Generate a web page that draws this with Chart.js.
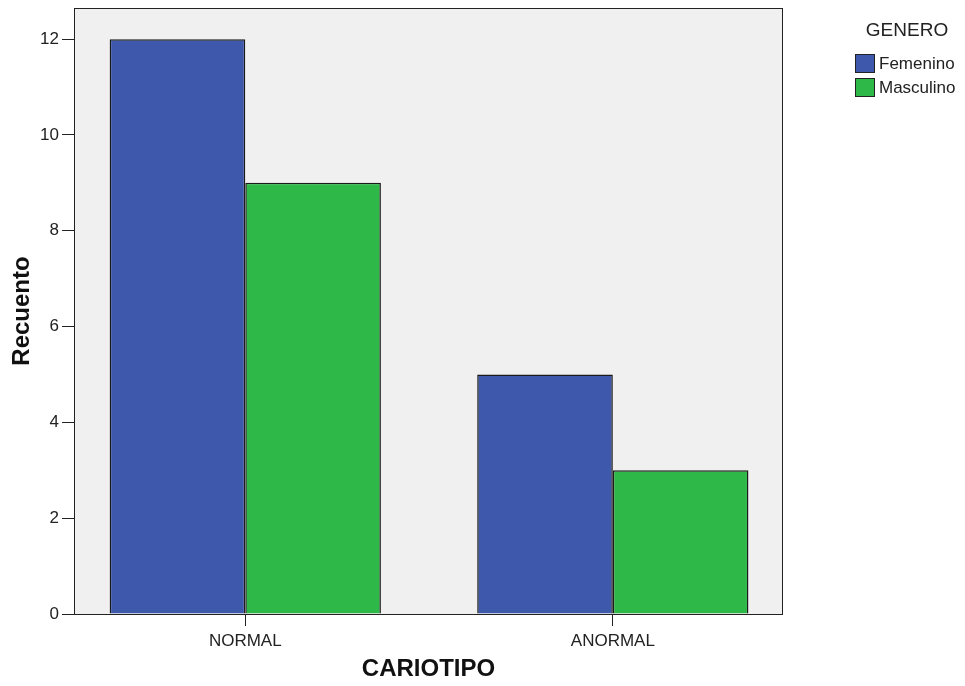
<!DOCTYPE html>
<html>
<head>
<meta charset="utf-8">
<script src="https://cdn.jsdelivr.net/npm/chart.js@4"></script>
<style>
html,body{margin:0;padding:0;background:#fff;}
#wrap{width:965px;height:686px;position:relative;}
</style>
</head>
<body>
<div id="wrap"><canvas id="c" width="965" height="686"></canvas></div>
<script>
const categories = ['NORMAL', 'ANORMAL'];
const femenino = [12, 5];
const masculino = [9, 3];
const seriesNames = ['Femenino', 'Masculino'];
const yTicks = [0, 2, 4, 6, 8, 10, 12];
const legendTitle = 'GENERO';
const xTitle = 'CARIOTIPO';
const yTitle = 'Recuento';

const blue = '#3E58AC';
const green = '#2EB848';
const FONT = 'Arial, "Liberation Sans", sans-serif';

const plotDeco = {
  id: 'plotDeco',
  beforeDatasetsDraw(chart) {
    const a = chart.chartArea, ctx = chart.ctx;
    ctx.save();
    ctx.fillStyle = '#F0F0F0';
    ctx.fillRect(a.left, a.top, a.right - a.left, a.bottom - a.top);
    ctx.restore();
  },
  afterDatasetsDraw(chart) {
    const a = chart.chartArea, ctx = chart.ctx;
    ctx.save();
    ctx.strokeStyle = '#222';
    ctx.lineWidth = 1;
    ctx.strokeRect(Math.round(a.left) + 0.5, Math.round(a.top) + 0.5, Math.round(a.right - a.left) - 1, Math.round(a.bottom - a.top));
    ctx.restore();
  },
  afterDraw(chart) {
    const ctx = chart.ctx;
    ctx.save();
    ctx.fillStyle = '#222';
    ctx.textBaseline = 'middle';
    ctx.textAlign = 'center';
    ctx.font = '19px ' + FONT;
    ctx.fillText(legendTitle, 907, 31);
    ctx.textAlign = 'left';
    ctx.font = '17px ' + FONT;
    chart.data.datasets.forEach((ds, i) => {
      const y = 54 + i * 24;
      ctx.fillStyle = ds.backgroundColor;
      ctx.fillRect(855, y, 20, 19);
      ctx.strokeStyle = '#222';
      ctx.strokeRect(855.5, y + 0.5, 19, 18);
      ctx.fillStyle = '#222';
      ctx.fillText(ds.label, 879, y + 10);
    });
    ctx.restore();
  }
};

new Chart(document.getElementById('c'), {
  type: 'bar',
  data: {
    datasets: [
      { label: seriesNames[0], data: categories.map((c, i) => ({ x: i, y: femenino[i] })), backgroundColor: blue, borderColor: '#1a1a1a', borderWidth: 1.5 },
      { label: seriesNames[1], data: categories.map((c, i) => ({ x: i, y: masculino[i] })), backgroundColor: green, borderColor: '#1a1a1a', borderWidth: 1.5 }
    ]
  },
  options: {
    responsive: false,
    animation: false,
    devicePixelRatio: 1,
    layout: { padding: { top: 8, right: 182, left: 0, bottom: 0 } },
    datasets: { bar: { categoryPercentage: 0.738, barPercentage: 1.0, grouped: true } },
    plugins: { legend: { display: false }, tooltip: { enabled: false } },
    scales: {
      x: {
        type: 'linear',
        offset: false,
        min: -0.466,
        max: 1.463,
        afterBuildTicks: (s) => { s.ticks = categories.map((c, i) => ({ value: i })); },
        afterFit: (s) => { s.height = 72; s.paddingLeft = 0; s.paddingRight = 0; },
        ticks: { callback: (v) => categories[v], color: '#222', font: { family: FONT, size: 17 }, padding: 5, maxRotation: 0, autoSkip: false },
        grid: { offset: false, drawOnChartArea: false, tickLength: 12, color: '#222', tickColor: '#222' },
        border: { display: false },
        title: { display: true, text: xTitle, color: '#111', font: { family: FONT, size: 24, weight: 'bold' }, padding: { top: 0, bottom: 2 } }
      },
      y: {
        min: 0,
        max: 12.65,
        afterBuildTicks: (s) => { s.ticks = yTicks.map(v => ({ value: v })); },
        afterFit: (s) => { s.width = 74; s.paddingTop = 0; s.paddingBottom = 0; },
        ticks: { color: '#222', font: { family: FONT, size: 17 }, padding: 3 },
        grid: { drawOnChartArea: false, tickLength: 12, color: '#222', tickColor: '#222' },
        border: { display: false },
        title: { display: true, text: yTitle, color: '#111', font: { family: FONT, size: 24, weight: 'bold' }, padding: { top: 8, bottom: 0 } }
      }
    }
  },
  plugins: [plotDeco]
});
</script>
</body>
</html>
